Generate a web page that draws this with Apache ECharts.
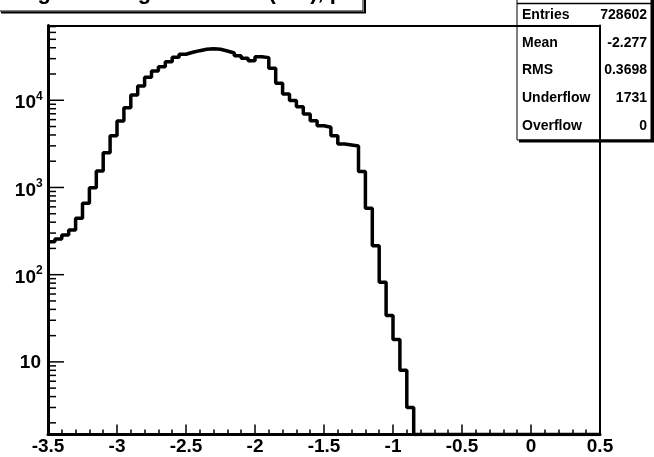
<!DOCTYPE html>
<html>
<head>
<meta charset="utf-8">
<script src="https://cdn.jsdelivr.net/npm/echarts@6/dist/echarts.min.js"></script>
<style>
html,body{margin:0;padding:0;background:#fff;}
#chart{width:654px;height:457px;}
</style>
</head>
<body>
<div id="chart"></div>
<script>
// ---- data ----
const xMin = -3.5;
const xMax = 0.5;
const binWidth = 0.05;
const counts = [
  239, 256, 285, 326, 444, 659, 995, 1546, 2506, 3926,
  5790, 8225, 11500, 14590, 18360, 21680, 24280, 27720, 31120, 33700,
  35500, 37050, 38460, 39080, 38460, 36730, 34860, 32450, 30330, 28450,
  31620, 30830, 23280, 15670, 11810, 9940, 8450, 6970, 5830, 5110,
  4900, 3930, 3150, 3070, 2990, 1520, 577, 215, 82, 34,
  18, 8, 3, 0, 0, 0, 0, 0, 0, 0,
  0, 0, 0, 0, 0, 0, 0, 0, 0, 0,
  0, 0, 0, 0, 0, 0, 0, 0, 0, 0
];
const yMin = 1.47;
const yMax = 72000;
const yMajorTicks = [10, 100, 1000, 10000];
const yMajorLabels = [['10', ''], ['10', '2'], ['10', '3'], ['10', '4']];
const yMinorTicks = [2, 3, 4, 5, 6, 7, 8, 9, 20, 30, 40, 50, 60, 70, 80, 90,
  200, 300, 400, 500, 600, 700, 800, 900, 2000, 3000, 4000, 5000, 6000, 7000, 8000, 9000,
  20000, 30000, 40000, 50000, 60000, 70000];
const titleText = 'log10 of Angle to Beam (rad), p';
const statsLabels = ['Entries', 'Mean', 'RMS', 'Underflow', 'Overflow'];
const statsValues = ['728602', '-2.277', '0.3698', '1731', '0'];

// ---- build ----
const FAM = '"Liberation Sans", Arial, Helvetica, sans-serif';
const FONT = 'bold 19px ' + FAM;
const histData = counts.map((c, i) => [xMin + i * binWidth, c > 0 ? c : yMin]);
histData.push([xMax, histData[histData.length - 1][1]]);

const chart = echarts.init(document.getElementById('chart'), null, {renderer: 'canvas'});

function majorTick(params, api) {
  const idx = params.dataIndex;
  const p = api.coord([xMin, api.value(0)]);
  const lab = yMajorLabels[idx];
  const children = [
    {type: 'line', shape: {x1: p[0], y1: p[1], x2: p[0] + 16, y2: p[1]}, style: {stroke: '#000', lineWidth: 1.5}}
  ];
  if (lab[1]) {
    children.push({type: 'text', x: p[0] - 12, y: p[1] + 3, style: {text: lab[0], font: FONT, fill: '#000', textAlign: 'right', textVerticalAlign: 'middle'}});
    children.push({type: 'text', x: p[0] - 12, y: p[1] - 4, style: {text: lab[1], font: 'bold 12px ' + FAM, fill: '#000', textAlign: 'left', textVerticalAlign: 'middle'}});
  } else {
    children.push({type: 'text', x: p[0] - 7, y: p[1] + 1, style: {text: lab[0], font: FONT, fill: '#000', textAlign: 'right', textVerticalAlign: 'middle'}});
  }
  return {type: 'group', children: children};
}
function minorTick(params, api) {
  const p = api.coord([xMin, api.value(0)]);
  return {type: 'line', shape: {x1: p[0], y1: p[1], x2: p[0] + 8, y2: p[1]}, style: {stroke: '#000', lineWidth: 1.5}};
}

const statsGraphics = [];
statsLabels.forEach((t, i) => {
  statsGraphics.push({type: 'text', x: 522, y: 15 + i * 27.7, z: 5,
    style: {text: t, font: 'bold 14px ' + FAM, fill: '#000', textAlign: 'left', textVerticalAlign: 'middle'}});
  statsGraphics.push({type: 'text', x: 647, y: 15 + i * 27.7, z: 5,
    style: {text: statsValues[i], font: 'bold 14px ' + FAM, fill: '#000', textAlign: 'right', textVerticalAlign: 'middle'}});
});

const option = {
  animation: false,
  backgroundColor: '#fff',
  grid: {left: 48, top: 25.5, width: 552, height: 409, show: false},
  xAxis: [{
    type: 'value', min: xMin, max: xMax, interval: 0.5, position: 'bottom',
    axisLine: {show: true, onZero: false, lineStyle: {color: '#000', width: 3}},
    axisTick: {show: true, inside: true, length: 10, lineStyle: {color: '#000', width: 1.5}},
    minorTick: {show: true, splitNumber: 5, length: 5, lineStyle: {color: '#000', width: 1.5}},
    splitLine: {show: false},
    axisLabel: {show: true, margin: 3, color: '#000', fontSize: 19, fontWeight: 'bold',
      fontFamily: FAM, showMinLabel: true, showMaxLabel: true}
  }, {
    type: 'value', min: xMin, max: xMax, position: 'top',
    axisLine: {show: true, onZero: false, lineStyle: {color: '#000', width: 2}},
    axisTick: {show: false}, axisLabel: {show: false}, splitLine: {show: false}
  }],
  yAxis: [{
    type: 'log', logBase: 10, min: yMin, max: yMax, position: 'left',
    axisLine: {show: true, onZero: false, lineStyle: {color: '#000', width: 3}},
    axisTick: {show: false}, axisLabel: {show: false}, splitLine: {show: false}, minorTick: {show: false}
  }, {
    type: 'value', min: 0, max: 1, position: 'right',
    axisLine: {show: true, onZero: false, lineStyle: {color: '#000', width: 2}},
    axisTick: {show: false}, axisLabel: {show: false}, splitLine: {show: false}
  }],
  series: [{
    type: 'line', data: histData, step: 'end', symbol: 'none',
    lineStyle: {color: '#000', width: 3.5}, clip: true, z: 3
  }, {
    type: 'custom', data: yMajorTicks.map(v => [v]), renderItem: majorTick,
    encode: {y: 0}, z: 4, silent: true
  }, {
    type: 'custom', data: yMinorTicks.map(v => [v]), renderItem: minorTick,
    encode: {y: 0}, z: 4, silent: true
  }],
  graphic: {elements: [
    // title box
    {type: 'rect', shape: {x: -2, y: -10, width: 365, height: 21}, z: 5,
      style: {fill: '#fff', stroke: '#000', lineWidth: 1}},
    {type: 'line', shape: {x1: 1, y1: 12.5, x2: 366, y2: 12.5}, z: 5, style: {stroke: '#000', lineWidth: 2}},
    {type: 'line', shape: {x1: 365, y1: 0, x2: 365, y2: 13}, z: 5, style: {stroke: '#000', lineWidth: 2}},
    {type: 'text', x: 18, y: 4, z: 6,
      style: {text: titleText, font: 'bold 22px ' + FAM, fill: '#000', textAlign: 'left', textVerticalAlign: 'bottom'}},
    // stats box
    {type: 'rect', shape: {x: 517, y: -10, width: 134, height: 150}, z: -1,
      style: {fill: 'none', stroke: '#000', lineWidth: 1}},
    {type: 'line', shape: {x1: 517, y1: 3.5, x2: 651, y2: 3.5}, z: 5, style: {stroke: '#000', lineWidth: 1.3}},
    {type: 'line', shape: {x1: 519, y1: 141, x2: 654, y2: 141}, z: 5, style: {stroke: '#000', lineWidth: 3}},
    {type: 'line', shape: {x1: 652.5, y1: 0, x2: 652.5, y2: 142}, z: 5, style: {stroke: '#000', lineWidth: 3}}
  ].concat(statsGraphics)}
};
chart.setOption(option);
</script>
</body>
</html>
